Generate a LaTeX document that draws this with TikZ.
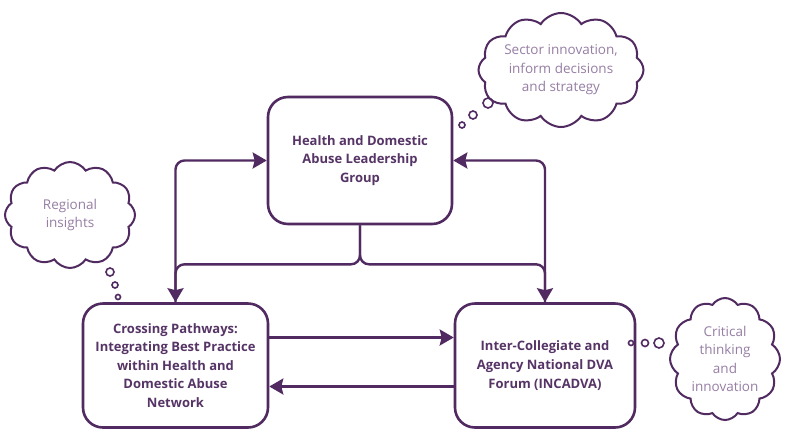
\documentclass[tikz,border=0pt]{standalone}
\usepackage{fontspec}
\setmainfont{Open Sans}
\usetikzlibrary{arrows.meta,shapes.symbols}
\definecolor{plum}{RGB}{80,42,96}
\definecolor{boxtext}{RGB}{86,52,102}
\definecolor{cloudtext}{RGB}{150,126,164}
\begin{document}
\begin{tikzpicture}[x=1pt,y=-1pt,
 box/.style={draw=plum, line width=2.6pt, rounded corners=20pt, fill=white, align=center, text=boxtext, font=\bfseries\fontsize{13}{18.6}\selectfont, inner sep=0pt},
 thought/.style={cloud, cloud puffs=12, cloud puff arc=115, cloud ignores aspect, draw=plum, line width=2pt, align=center, text=cloudtext, font=\fontsize{13.5}{18.5}\selectfont, inner sep=0pt},
 bub/.style={circle, draw=plum, line width=1.6pt, inner sep=0pt},
 arr/.style={draw=plum, line width=2.4pt, rounded corners=9pt, -{Stealth[length=14pt,width=16pt,inset=2pt]}}]
\useasboundingbox (0,0) rectangle (787,432);
\fill[white] (0,0) rectangle (787,432);

\node[box, minimum width=184pt, minimum height=127pt] (T) at (360,160.5) {Health and Domestic\\Abuse Leadership\\Group};
\node[box, minimum width=185pt, minimum height=124pt] (L) at (175.5,365.5) {Crossing Pathways:\\Integrating Best Practice\\within Health and\\Domestic Abuse\\Network};
\node[box, minimum width=180pt, minimum height=124pt] (R) at (545,365.5) {Inter-Collegiate and\\Agency National DVA\\Forum (INCADVA)};

\draw[arr] (L.north) |- (T.west);
\draw[arr] (T.south) -- ++(0,39) -| (L.north);
\draw[arr] (R.north) |- (T.east);
\draw[arr] (T.south) -- ++(0,39) -| (R.north);
\draw[arr] ([yshift=28pt]L.east) -- ([yshift=28pt]R.west);
\draw[arr] ([yshift=-21pt]R.west) -- ([yshift=-21pt]L.east);

\node[thought, minimum width=130pt, minimum height=106pt] (C1) at (70,215) {Regional\\insights};
\node[thought, minimum width=144pt, minimum height=114pt] (C2) at (561,70) {Sector innovation,\\inform decisions\\and strategy};
\node[thought, minimum width=110pt, minimum height=122pt] (C3) at (725,359) {Critical\\thinking\\and\\innovation};

\node[bub, minimum size=8pt] (b1) at (110,272) {};
\node[bub, minimum size=6pt] (b2) at (115,285) {};
\node[bub, minimum size=5pt] (b3) at (118,297) {};
\node[bub, minimum size=10pt] (s1) at (488,103) {};
\node[bub, minimum size=8pt] (s2) at (473,115) {};
\node[bub, minimum size=6pt] (s3) at (462,125) {};
\node[bub, minimum size=10pt] (c1) at (659,343) {};
\node[bub, minimum size=7pt] (c2) at (645,343) {};
\node[bub, minimum size=5pt] (c3) at (631,343) {};
\end{tikzpicture}
\end{document}
